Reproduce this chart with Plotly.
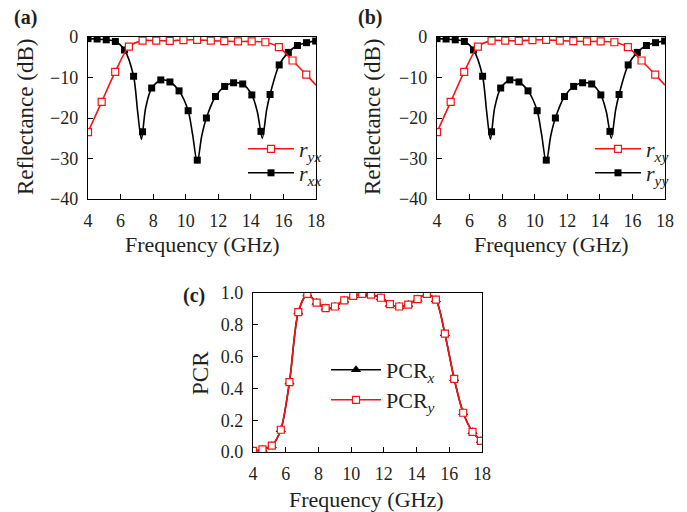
import plotly.graph_objects as go

W, H = 687, 512

RED = "#f51414"
BLACK = "#000000"
TXT = "#231f20"
FONT = "Liberation Serif"

# ---- (a)/(b) reflectance spectra (dB) ----
# co-polarised reflection, marker samples
f_co = [4.00, 4.56, 5.12, 5.68, 6.24, 6.80, 7.35, 7.91, 8.47, 9.03, 9.59, 10.15, 10.71,
        11.27, 11.83, 12.39, 12.94, 13.50, 14.06, 14.62, 15.18, 15.74, 16.30, 16.86, 17.42, 17.98]
r_xx = [-0.4, -0.5, -0.7, -1.1, -3.2, -9.7, -23.4, -12.6, -10.6, -11.1, -13.3, -18.2, -30.4,
        -20.0, -14.7, -12.2, -11.3, -11.6, -14.3, -23.3, -14.2, -6.9, -3.8, -2.1, -1.4, -1.0]
# co-polarised reflection, curve (includes the resonance tips)
f_co_curve = [4.00, 4.56, 5.12, 5.68, 6.24, 6.80, 7.05, 7.28, 7.54, 7.91, 8.47, 9.03, 9.59,
              10.15, 10.42, 10.71, 10.98, 11.27, 11.83, 12.39, 12.94, 13.50, 14.06, 14.40,
              14.70, 14.97, 15.18, 15.74, 16.30, 16.86, 17.42, 18.00]
r_xx_curve = [-0.4, -0.5, -0.7, -1.1, -3.2, -9.7, -18.5, -25.3, -17.5, -12.6, -10.6, -11.1, -13.3,
              -18.2, -24.0, -31.1, -24.5, -20.0, -14.7, -12.2, -11.3, -11.6, -14.3, -18.5,
              -25.0, -18.0, -14.2, -6.9, -3.8, -2.1, -1.4, -0.9]

# cross-polarised reflection, marker samples
f_cross = [4.00, 4.84, 5.67, 6.51, 7.35, 8.19, 9.02, 9.86, 10.70, 11.54, 12.37, 13.21,
           14.05, 14.89, 15.72, 16.56, 17.40]
r_yx = [-23.5, -16.0, -8.6, -2.4, -0.9, -0.9, -0.95, -0.75, -0.7, -0.9, -1.0, -1.1,
        -1.1, -1.3, -2.5, -5.8, -9.3]
f_cross_end = 18.0
r_yx_end = -11.9

# y-incidence counterparts
r_yy, r_yy_curve = r_xx, r_xx_curve
r_xy, r_xy_end = r_yx, r_yx_end

# ---- (c) polarisation conversion ratio ----
f_pcr = [4.00, 4.58, 5.15, 5.70, 6.23, 6.77, 7.32, 7.89, 8.44, 9.01, 9.58, 10.13, 10.68,
         11.21, 11.82, 12.37, 12.94, 13.49, 14.06, 14.63, 15.18, 15.73, 16.30, 16.85, 17.42, 17.93]
pcr_y = [0.007, 0.016, 0.04, 0.14, 0.44, 0.88, 0.994, 0.94, 0.905, 0.915, 0.953, 0.982, 0.995,
         0.99, 0.97, 0.93, 0.915, 0.927, 0.962, 0.994, 0.958, 0.744, 0.46, 0.247, 0.127, 0.07]
pcr_x = pcr_y

x_ticks = [4, 6, 8, 10, 12, 14, 16, 18]
db_ticks = [0, -10, -20, -30, -40]
pcr_ticks = [0.0, 0.2, 0.4, 0.6, 0.8, 1.0]


def px_x(p):
    return p / W


def px_y(p):
    return 1 - p / H


fig = go.Figure()

panels = [
    # (axis suffix, legend ids, co name, cross name, co curve, co markers, cross markers, cross end)
    ("", ("legend", "legend2"), "<i>r</i><sub><i>xx</i></sub>", "<i>r</i><sub><i>yx</i></sub>",
     r_xx_curve, r_xx, r_yx, r_yx_end),
    ("2", ("legend3", "legend4"), "<i>r</i><sub><i>yy</i></sub>", "<i>r</i><sub><i>xy</i></sub>",
     r_yy_curve, r_yy, r_xy, r_xy_end),
]

for sfx, legs, co_name, cross_name, co_curve, co_pts, cross_pts, cross_end in panels:
    xa, ya = "x" + sfx, "y" + sfx
    # black co-polarised curve + markers
    fig.add_trace(go.Scatter(x=f_co_curve, y=co_curve, mode="lines", xaxis=xa, yaxis=ya,
                             line=dict(color=BLACK, width=1.6, shape="spline", smoothing=0.8),
                             showlegend=False, hoverinfo="skip"))
    fig.add_trace(go.Scatter(x=f_co, y=co_pts, mode="markers", xaxis=xa, yaxis=ya,
                             marker=dict(symbol="square", size=7, color=BLACK),
                             showlegend=False))
    # red cross-polarised curve + markers
    fig.add_trace(go.Scatter(x=f_cross + [f_cross_end], y=cross_pts + [cross_end], mode="lines",
                             xaxis=xa, yaxis=ya,
                             line=dict(color=RED, width=1.6, shape="spline", smoothing=0.8),
                             showlegend=False, hoverinfo="skip"))
    fig.add_trace(go.Scatter(x=f_cross, y=cross_pts, mode="markers", xaxis=xa, yaxis=ya,
                             marker=dict(symbol="square", size=7, color="white",
                                         line=dict(color=RED, width=1.2)),
                             showlegend=False))
    # legend entries
    fig.add_trace(go.Scatter(x=[None], y=[None], mode="lines+markers", xaxis=xa, yaxis=ya,
                             name=cross_name, legend=legs[0],
                             line=dict(color=RED, width=1.6),
                             marker=dict(symbol="square", size=7, color="white",
                                         line=dict(color=RED, width=1.2))))
    fig.add_trace(go.Scatter(x=[None], y=[None], mode="lines+markers", xaxis=xa, yaxis=ya,
                             name=co_name, legend=legs[1],
                             line=dict(color=BLACK, width=1.6),
                             marker=dict(symbol="square", size=7, color=BLACK)))

# (c) PCR
fig.add_trace(go.Scatter(x=f_pcr, y=pcr_x, mode="lines+markers", xaxis="x3", yaxis="y3",
                         name="PCR<sub><i>x</i></sub>", legend="legend5",
                         line=dict(color=BLACK, width=1.6, shape="spline", smoothing=0.8),
                         marker=dict(symbol="triangle-up", size=9, color=BLACK)))
fig.add_trace(go.Scatter(x=f_pcr, y=pcr_y, mode="lines+markers", xaxis="x3", yaxis="y3",
                         name="PCR<sub><i>y</i></sub>", legend="legend6",
                         line=dict(color=RED, width=1.6, shape="spline", smoothing=0.8),
                         marker=dict(symbol="square", size=7, color="white",
                                     line=dict(color=RED, width=1.2))))


def axis(**kw):
    base = dict(showline=True, mirror=True, linecolor=BLACK, linewidth=1.3,
                ticks="inside", ticklen=5, tickwidth=1.2, tickcolor=BLACK,
                showgrid=False, zeroline=False, fixedrange=True, automargin=False,
                tickfont=dict(family=FONT, size=18, color=TXT))
    base.update(kw)
    return base


xdom_a = [px_x(88), px_x(316)]
xdom_b = [px_x(437), px_x(665)]
ydom_ab = [px_y(199), px_y(37)]
xdom_c = [px_x(253), px_x(482)]
ydom_c = [px_y(452), px_y(293)]

fig.update_layout(
    template="none",
    width=W, height=H,
    margin=dict(l=0, r=0, t=0, b=0, autoexpand=False),
    paper_bgcolor="white", plot_bgcolor="white",
    xaxis=axis(domain=xdom_a, anchor="y", range=[4, 18], tickvals=x_ticks, ticklabelstandoff=5),
    yaxis=axis(domain=ydom_ab, anchor="x", range=[-40, 0], tickvals=db_ticks, ticklabelstandoff=5),
    xaxis2=axis(domain=xdom_b, anchor="y2", range=[4, 18], tickvals=x_ticks, ticklabelstandoff=5),
    yaxis2=axis(domain=ydom_ab, anchor="x2", range=[-40, 0], tickvals=db_ticks,
                ticklabelstandoff=5),
    xaxis3=axis(domain=xdom_c, anchor="y3", range=[4, 18], tickvals=x_ticks, ticklabelstandoff=5),
    yaxis3=axis(domain=ydom_c, anchor="x3", range=[0, 1.0], tickvals=pcr_ticks,
                tickformat=".1f", ticklabelstandoff=5),
    showlegend=True,
)

leg_common = dict(bgcolor="rgba(0,0,0,0)", borderwidth=0, xanchor="left", yanchor="middle",
                  font=dict(family=FONT, size=22, color=TXT))
# one legend box per entry so each can sit exactly where it belongs
legend_spots = {
    "legend": (243, 149, 46), "legend2": (243, 173, 46),
    "legend3": (590, 149, 46), "legend4": (590, 173, 46),
    "legend5": (326, 370, 50), "legend6": (326, 400, 50),
}
fig.update_layout({name: dict(x=px_x(x), y=px_y(y), itemwidth=iw, **leg_common)
                   for name, (x, y, iw) in legend_spots.items()})

# axis titles
titles = [
    ("Frequency (GHz)", 202, 244, 0, 22),
    ("Frequency (GHz)", 551, 244, 0, 22),
    ("Frequency (GHz)", 367, 499, 0, 22),
    ("Reflectance (dB)", 25, 117, -90, 23),
    ("Reflectance (dB)", 372, 117, -90, 23),
    ("PCR", 200, 373, -90, 23),
]
for text, x, y, ang, size in titles:
    fig.add_annotation(text=text, x=px_x(x), y=px_y(y), xref="paper", yref="paper",
                       xanchor="center", yanchor="middle", textangle=ang, showarrow=False,
                       font=dict(family=FONT, size=size, color=TXT))

# panel labels
for label, x, y in [("(a)", 12, 17), ("(b)", 356, 17), ("(c)", 181, 295)]:
    fig.add_annotation(text="<b>" + label + "</b>", x=px_x(x), y=px_y(y), xref="paper",
                       yref="paper", xanchor="left", yanchor="middle", showarrow=False,
                       font=dict(family=FONT, size=20, color=TXT))

fig.write_html("out.html")
